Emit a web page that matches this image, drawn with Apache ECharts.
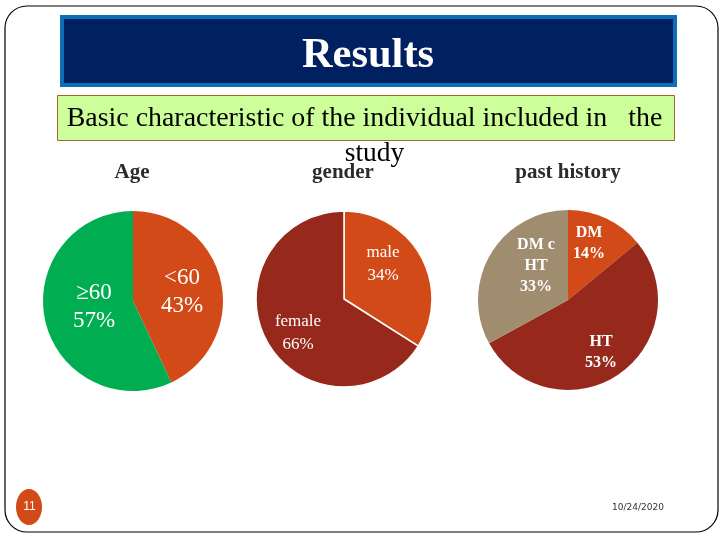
<!DOCTYPE html>
<html lang="en">
<head>
    <meta charset="UTF-8">
    <title>Results</title>
    <script src="https://cdn.jsdelivr.net/npm/echarts@6/dist/echarts.min.js"></script>
    <style>
        body { margin: 0; background: #fff; }
        #chart { width: 720px; height: 540px; }
    </style>
</head>
<body>
    <div id="chart"></div>
    <script>
        const ageNames = ['<60', '≥60']
        const ageValues = [43, 57]
        const genderNames = ['male', 'female']
        const genderValues = [34, 66]
        const historyNames = ['DM', 'HT', 'DM c\nHT']
        const historyValues = [14, 53, 33]

        const orange = '#d24a17'
        const darkRed = '#96291c'
        const green = '#00ad50'
        const tan = '#a08c6e'
        const serif = '"Liberation Serif", serif'

        function pie(names, values, colors, center, radius, spots, font, border) {
            return {
                type: 'pie',
                center: center,
                radius: radius,
                startAngle: 90,
                clockwise: true,
                silent: true,
                animation: false,
                labelLine: { show: false },
                itemStyle: { borderColor: border ? '#fff' : 'transparent', borderWidth: border ? 1.5 : 0 },
                label: {
                    show: true,
                    position: 'inside',
                    color: '#fff',
                    fontFamily: serif,
                    fontSize: font.size,
                    fontWeight: font.weight,
                    lineHeight: font.line,
                    align: 'center',
                    verticalAlign: 'middle',
                    formatter: p => p.name + '\n' + p.value + '%'
                },
                labelLayout: p => ({
                    x: spots[p.dataIndex][0],
                    y: spots[p.dataIndex][1],
                    align: 'center',
                    verticalAlign: 'middle'
                }),
                data: names.map((n, i) => ({ name: n, value: values[i], itemStyle: { color: colors[i] } }))
            }
        }

        function text(x, y, str, font, fill, extra) {
            return {
                type: 'text',
                silent: true,
                x: x,
                y: y,
                style: Object.assign({ text: str, font: font, fill: fill, align: 'center', verticalAlign: 'middle' }, extra || {})
            }
        }

        const chart = echarts.init(document.getElementById('chart'))
        chart.setOption({
            backgroundColor: '#fff',
            animation: false,
            series: [
                pie(ageNames, ageValues, [orange, green], [133, 301], 90, [[182, 292], [94, 307]], { size: 23, line: 28, weight: 'normal' }, false),
                pie(genderNames, genderValues, [orange, darkRed], [344, 299], 88, [[383, 264], [298, 333]], { size: 17, line: 23, weight: 'normal' }, true),
                pie(historyNames, historyValues, [orange, darkRed, tan], [568, 300], 90, [[589, 243], [601, 352], [536, 266]], { size: 16, line: 21, weight: 'bold' }, false)
            ],
            graphic: [
                { type: 'rect', silent: true, shape: { x: 5, y: 6, width: 713, height: 526, r: 22 }, style: { fill: 'none', stroke: '#000', lineWidth: 1.2 } },
                { type: 'rect', silent: true, shape: { x: 62, y: 17, width: 613, height: 68 }, style: { fill: '#00205f', stroke: '#0d6db5', lineWidth: 4 } },
                text(368, 56, 'Results', 'bold 42.5px ' + serif, '#fff'),
                { type: 'rect', silent: true, shape: { x: 57.5, y: 95.5, width: 617, height: 45 }, style: { fill: '#ccff99', stroke: '#a8642a', lineWidth: 1 } },
                text(364.5, 119, 'Basic characteristic of the individual included in   the', '27.9px ' + serif, '#000'),
                text(374.5, 154, 'study', '27.5px ' + serif, '#000'),
                text(132, 173, 'Age', 'bold 21px ' + serif, '#2b2b2b'),
                text(343, 173, 'gender', 'bold 21px ' + serif, '#2b2b2b'),
                text(568, 173, 'past history', 'bold 21px ' + serif, '#2b2b2b'),
                { type: 'ellipse', silent: true, shape: { cx: 29, cy: 507, rx: 13, ry: 18 }, style: { fill: orange } },
                text(29.5, 507, '11', '12px "Liberation Sans", sans-serif', '#fff'),
                text(638, 508, '10/24/2020', '9px "DejaVu Sans", sans-serif', '#333', { letterSpacing: 0.7 })
            ]
        })
    </script>
</body>
</html>
